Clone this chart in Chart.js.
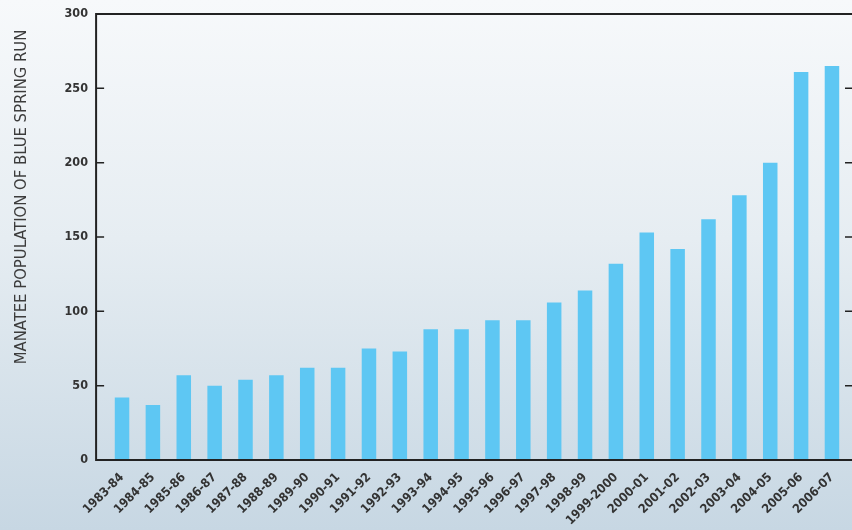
<!DOCTYPE html>
<html>
<head>
<meta charset="utf-8">
<script src="https://cdn.jsdelivr.net/npm/chart.js@4/dist/chart.umd.min.js"></script>
<style>
  html, body {
    margin: 0;
    padding: 0;
    width: 852px;
    height: 530px;
    overflow: hidden;
    background: linear-gradient(to bottom, #f7f9fb 0%, #e6edf2 45%, #c7d7e3 100%);
  }
  canvas { display: block; }
</style>
</head>
<body>
<canvas id="chart" width="852" height="530"></canvas>
<script>
const seasons = [
  "1983-84", "1984-85", "1985-86", "1986-87", "1987-88", "1988-89",
  "1989-90", "1990-91", "1991-92", "1992-93", "1993-94", "1994-95",
  "1995-96", "1996-97", "1997-98", "1998-99", "1999-2000", "2000-01",
  "2001-02", "2002-03", "2003-04", "2004-05", "2005-06", "2006-07",
];
const manatees = [
  42, 37, 57, 50, 54, 57, 62, 62, 75, 73, 88, 88,
  94, 94, 106, 114, 132, 153, 142, 162, 178, 200, 261, 265,
];
const yTicks = [0, 50, 100, 150, 200, 250, 300];
const yTitle = "MANATEE POPULATION OF BLUE SPRING RUN";

const narrow = "'Liberation Sans Narrow', 'DejaVu Sans Condensed', 'Roboto', sans-serif";

// frame, inward tick marks and the rotated axis title
const framePlugin = {
  id: "frame",
  afterDraw(chart) {
    const ctx = chart.ctx;
    const area = chart.chartArea;
    const y = chart.scales.y;
    const left = area.left - 10.5;
    const right = chart.width;

    ctx.save();
    ctx.strokeStyle = "#222";
    ctx.lineWidth = 2;
    ctx.beginPath();
    ctx.moveTo(right, area.top);
    ctx.lineTo(left, area.top);
    ctx.lineTo(left, area.bottom);
    ctx.lineTo(right, area.bottom);
    ctx.stroke();

    ctx.lineWidth = 1.5;
    yTicks.forEach((v) => {
      if (v === 0 || v === 300) return;
      const py = y.getPixelForValue(v);
      ctx.beginPath();
      ctx.moveTo(left, py);
      ctx.lineTo(left + 8, py);
      ctx.moveTo(right - 7, py);
      ctx.lineTo(right, py);
      ctx.stroke();
    });

    ctx.translate(22, 197);
    ctx.rotate(-Math.PI / 2);
    ctx.fillStyle = "#3c3c3c";
    ctx.font = "16.5px " + narrow;
    ctx.textAlign = "center";
    ctx.textBaseline = "middle";
    ctx.fillText(yTitle, 0, 0);
    ctx.restore();
  },
};

new Chart(document.getElementById("chart"), {
  type: "bar",
  data: {
    labels: seasons,
    datasets: [
      {
        data: manatees,
        backgroundColor: "#5ec7f3",
        borderWidth: 0,
        barPercentage: 0.94,
        categoryPercentage: 0.5,
      },
    ],
  },
  options: {
    responsive: false,
    animation: false,
    layout: { padding: { top: 14, right: 4.6, left: 0, bottom: 0 } },
    plugins: {
      legend: { display: false },
      tooltip: { enabled: false },
    },
    scales: {
      x: {
        offset: true,
        grid: { display: false },
        border: { display: false },
        afterFit(scale) {
          scale.height = 70;
        },
        ticks: {
          autoSkip: false,
          minRotation: 45,
          maxRotation: 45,
          padding: 2,
          color: "#333",
          font: { family: narrow, size: 12.5, weight: "bold" },
        },
      },
      y: {
        min: 0,
        max: 300,
        grid: {
          display: true,
          drawOnChartArea: false,
          drawTicks: true,
          tickLength: 14.6,
          color: "rgba(0,0,0,0)",
        },
        border: { display: false },
        afterFit(scale) {
          scale.width = 106.6;
        },
        afterBuildTicks(scale) {
          scale.ticks = yTicks.map((v) => ({ value: v }));
        },
        ticks: {
          padding: 4,
          color: "#333",
          font: { family: narrow, size: 12.5, weight: "bold" },
        },
      },
    },
  },
  plugins: [framePlugin],
});
</script>
</body>
</html>
